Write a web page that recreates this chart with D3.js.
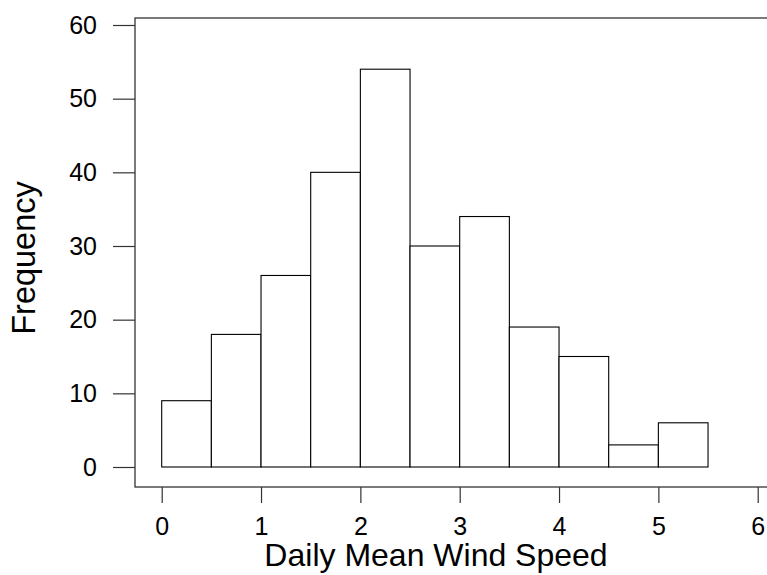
<!DOCTYPE html>
<html>
<head>
<meta charset="utf-8">
<script src="https://cdn.jsdelivr.net/npm/d3@7"></script>
<style>
body { margin: 0; background: #fff; }
svg { font-family: "Liberation Sans", Arial, sans-serif; }
</style>
</head>
<body>
<div id="chart"></div>
<script>
// histogram bins (lower edge) and counts
var binStarts = [0, 0.5, 1, 1.5, 2, 2.5, 3, 3.5, 4, 4.5, 5];
var binWidth = 0.5;
var counts = [9, 18, 26, 40, 54, 30, 34, 19, 15, 3, 6];
var xTicks = [0, 1, 2, 3, 4, 5, 6];
var yTicks = [0, 10, 20, 30, 40, 50, 60];

var width = 767, height = 575;
var svg = d3.select("#chart").append("svg")
    .attr("width", width).attr("height", height);

var x = d3.scaleLinear().domain([0, 6]).range([161.7, 757.7]);
var y = d3.scaleLinear().domain([0, 60]).range([467, 25]);

// frame box (right edge off canvas)
svg.append("rect")
    .attr("x", 135).attr("y", 18)
    .attr("width", 660).attr("height", 469)
    .attr("fill", "none").attr("stroke", "#333").attr("stroke-width", 1.3);

// bars
svg.selectAll(".bar")
    .data(counts)
    .enter().append("rect")
    .attr("class", "bar")
    .attr("x", function (d, i) { return x(binStarts[i]); })
    .attr("y", function (d) { return y(d); })
    .attr("width", function (d, i) { return x(binStarts[i] + binWidth) - x(binStarts[i]); })
    .attr("height", function (d) { return y(0) - y(d); })
    .attr("fill", "#fff").attr("stroke", "#000").attr("stroke-width", 1.1);

// y axis
var yAxis = d3.axisLeft(y).tickValues(yTicks).tickFormat(d3.format("d"))
    .tickSize(22).tickPadding(16);
var gy = svg.append("g").attr("transform", "translate(135,0)").call(yAxis);
gy.select(".domain").remove();
gy.selectAll("line").attr("stroke", "#333").attr("stroke-width", 1.2);
gy.selectAll("text").style("font-size", "25px").attr("fill", "#000")
    .style("font-family", "Liberation Sans, Arial, sans-serif");

// x axis
var xAxis = d3.axisBottom(x).tickValues(xTicks).tickFormat(d3.format("d"))
    .tickSize(16).tickPadding(14);
var gx = svg.append("g").attr("transform", "translate(0,487)").call(xAxis);
gx.select(".domain").remove();
gx.selectAll("line").attr("stroke", "#333").attr("stroke-width", 1.2);
gx.selectAll("text").style("font-size", "25px").attr("fill", "#000")
    .style("font-family", "Liberation Sans, Arial, sans-serif");

// axis titles
svg.append("text")
    .attr("x", 436).attr("y", 566)
    .attr("text-anchor", "middle").style("font-size", "32px")
    .text("Daily Mean Wind Speed");

svg.append("text")
    .attr("transform", "translate(35,258) rotate(-90)")
    .attr("text-anchor", "middle").style("font-size", "32.5px")
    .text("Frequency");
</script>
</body>
</html>
